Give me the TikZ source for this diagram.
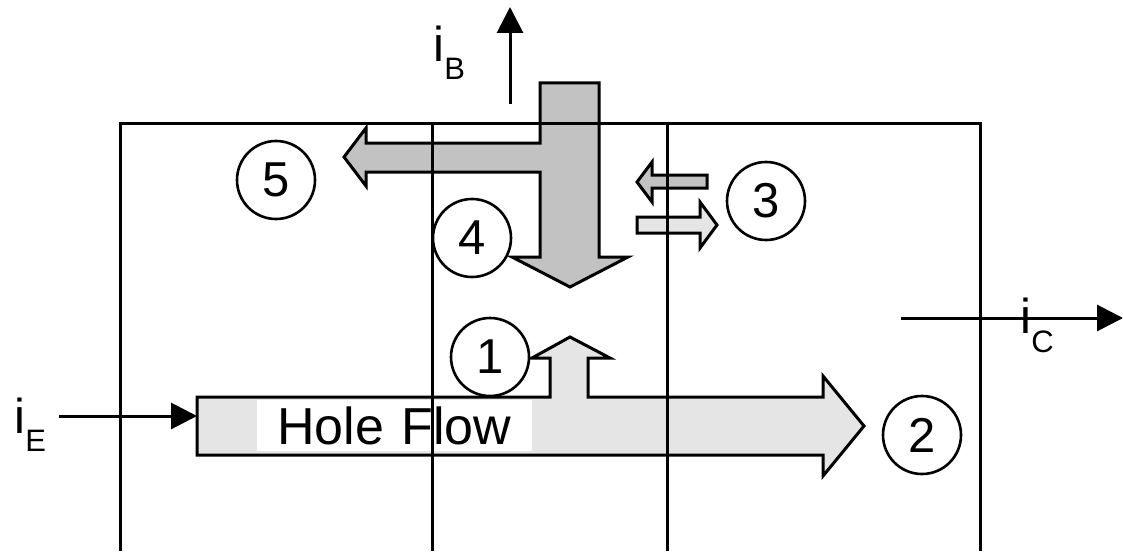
\documentclass[tikz,border=0pt]{standalone}
\usepackage{fontspec}
\setmainfont{Liberation Sans}
\usetikzlibrary{arrows.meta}
\definecolor{holeGrey}{gray}{0.90}
\definecolor{baseGrey}{gray}{0.76}
\newcommand{\subfont}{\fontsize{15.5}{16}\selectfont}

\begin{document}
\begin{tikzpicture}[x=0.5pt,y=-0.5pt,
 region/.style={line width=1.5pt,draw=black},
 flow/.style={line width=1.5pt,draw=black,fill=holeGrey,line join=miter},
 recomb/.style={line width=1.5pt,draw=black,fill=baseGrey,line join=miter},
 num/.style={circle,draw=black,line width=1.3pt,fill=white,minimum size=39pt,inner sep=0pt,font=\fontsize{24.5}{26}\selectfont},
 current/.style={-{Triangle[length=13pt,width=13pt]},line width=1.5pt},
 cur/.style={font=\fontsize{24.5}{26}\selectfont,inner sep=0pt,anchor=base west}
]
\useasboundingbox (0,0) rectangle (1123,551);

% hole flow with the branch going up
\draw[flow] (197,397) -- (550,397) -- (550,358) -- (532,358) -- (570,337) -- (610,358) -- (588,358)
  -- (588,397) -- (823,397) -- (823,376) -- (864,426) -- (823,476) -- (823,455) -- (197,455) -- cycle;
% base current splitting
\draw[recomb] (540,83) -- (599,83) -- (599,257) -- (628,257) -- (570,287) -- (512,257) -- (540,257)
  -- (540,172) -- (366,172) -- (366,186) -- (344,157) -- (366,128) -- (366,143) -- (540,143) -- cycle;
% small arrows at the collector junction
\draw[recomb] (707,175) -- (652,175) -- (652,162) -- (637,182) -- (652,202) -- (652,188) -- (707,188) -- cycle;
\draw[flow] (637,217) -- (700,217) -- (700,202) -- (717,225) -- (700,248) -- (700,233) -- (637,233) -- cycle;

\node[fill=white,anchor=west,inner xsep=10pt,inner ysep=0pt,text width=117.5pt,minimum height=25.5pt,
  font=\fontsize{26}{28}\selectfont] (hole) at (257,425.5) {Hole Flow};

% emitter, base, collector regions
\draw[region] (120,551) |- (980,123) -- (980,551);
\foreach \x in {432,667}
  \draw[region] (\x,123) -- (\x,551);

\node[num] (n1) at (490,357) {1};
\node[num] (n2) at (922,435) {2};
\node[num] (n3) at (766,201) {3};
\node[num] (n4) at (472,238) {4};
\node[num] (n5) at (276,180) {5};

% terminal currents
\coordinate (ibFrom) at (510,104);
\coordinate (ibTo) at (510,7);
\coordinate (ieFrom) at (59,416);
\coordinate (ieTo) at (197,416);
\coordinate (icFrom) at (901,318);
\coordinate (icTo) at (1123,318);
\draw[current] (ibFrom) -- (ibTo);
\draw[current] (ieFrom) -- (ieTo);
\draw[current] (icFrom) -- (icTo);

\node[cur] (ib) at (433,62) {i\raisebox{-9pt}{\subfont B}};
\node[cur] (ie) at (14,433) {i\raisebox{-9pt}{\subfont E}};
\node[cur] (ic) at (1020,333) {i\raisebox{-9.5pt}{\subfont C}};
\end{tikzpicture}
\end{document}
